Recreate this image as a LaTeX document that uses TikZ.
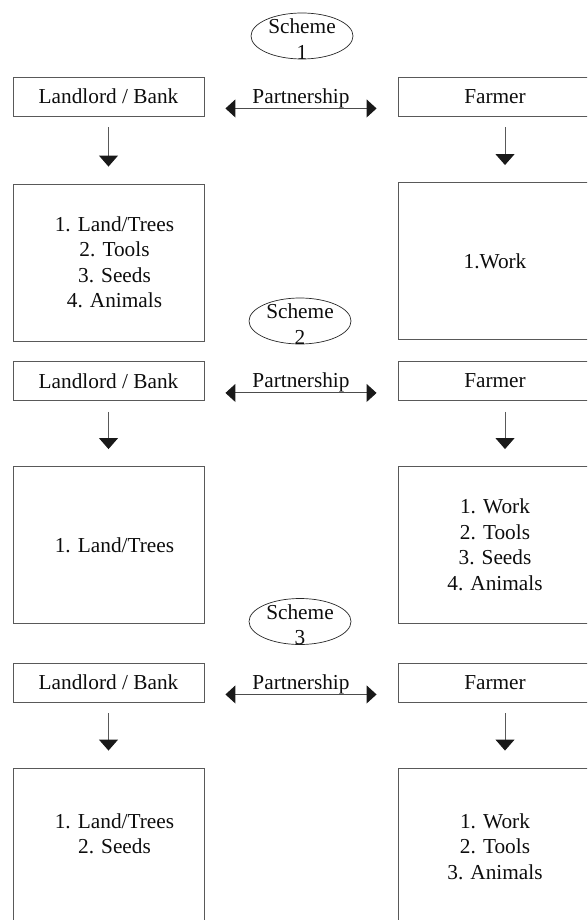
\documentclass[tikz,border=0pt]{standalone}
\usepackage{fontspec}
\setmainfont{Liberation Serif}
\usetikzlibrary{arrows.meta,shapes.geometric}

\tikzset{
  headbox/.style={draw=black!65,line width=0.9pt,minimum width=191pt,minimum height=39pt,inner sep=0pt},
  itembox/.style={draw=black!65,line width=0.9pt,minimum width=191pt,minimum height=157pt,inner sep=0pt,align=center},
  schemeoval/.style={draw=black!85,ellipse,line width=0.7pt,minimum width=102pt,minimum height=46pt,inner sep=0pt},
  listtext/.style={align=center,inner sep=0pt},
  downarrow/.style={-{Triangle[length=11pt,width=19pt,color=black!90]},draw=black!65,line width=1pt},
  partner/.style={{Triangle[length=10pt,width=18pt,color=black!90]}-{Triangle[length=10pt,width=18pt,color=black!90]},draw=black!70,line width=1pt},
}

\begin{document}
\begin{tikzpicture}[x=1pt,y=-1pt,font=\fontsize{21.3pt}{25.5pt}\selectfont,text=black!95]
\clip (0,0) rectangle (587,920);
% Scheme 1
\node[schemeoval] (s1) at (302,36){}; \node[listtext] (st1) at ([yshift=-3pt]s1.center){Scheme\\1};
\node[headbox] (lh1) at (108.5,96.5){Landlord / Bank}; \node[headbox,minimum width=194pt] (rh1) at (495,96.5){Farmer};
\draw[partner] ([shift={(21pt,8pt)}]lh1.south east)--([shift={(-21pt,8pt)}]rh1.south west) node[midway,above,inner sep=0pt] (p1){Partnership};
\node[itembox] (lb1) at (108.5,262.5){}; \node[listtext] (lt1) at ([xshift=6pt]lb1.center){1. Land/Trees\\2. Tools\\3. Seeds\\4. Animals};
\node[itembox,minimum width=194pt] (rb1) at (495,261){1.Work};
\draw[downarrow] ([yshift=-11pt]lh1.south)--([yshift=17pt]lb1.north); \draw[downarrow] ([shift={(10pt,-11pt)}]rh1.south)--([shift={(10pt,17pt)}]rb1.north);
% Scheme 2
\node[schemeoval] (s2) at (300,321){}; \node[listtext] (st2) at ([yshift=-3pt]s2.center){Scheme\\2};
\node[headbox] (lh2) at (108.5,381){Landlord / Bank}; \node[headbox,minimum width=194pt] (rh2) at (495,381){Farmer};
\draw[partner] ([shift={(21pt,8pt)}]lh2.south east)--([shift={(-21pt,8pt)}]rh2.south west) node[midway,above,inner sep=0pt] (p2){Partnership};
\node[itembox] (lb2) at (108.5,545){}; \node[listtext] (lt2) at ([xshift=6pt]lb2.center){1. Land/Trees};
\node[itembox,minimum width=194pt] (rb2) at (495,545){1. Work\\2. Tools\\3. Seeds\\4. Animals};
\draw[downarrow] ([yshift=-11pt]lh2.south)--([yshift=17pt]lb2.north); \draw[downarrow] ([shift={(10pt,-11pt)}]rh2.south)--([shift={(10pt,17pt)}]rb2.north);
% Scheme 3
\node[schemeoval] (s3) at (300,621.5){}; \node[listtext] (st3) at ([yshift=-3pt]s3.center){Scheme\\3};
\node[headbox] (lh3) at (108.5,682.5){Landlord / Bank}; \node[headbox,minimum width=194pt] (rh3) at (495,682.5){Farmer};
\draw[partner] ([shift={(21pt,8pt)}]lh3.south east)--([shift={(-21pt,8pt)}]rh3.south west) node[midway,above,inner sep=0pt] (p3){Partnership};
\node[itembox] (lb3) at (108.5,846.5){}; \node[listtext] (lt3) at ([shift={(6pt,12.5pt)}]lb3.center){1. Land/Trees\\2. Seeds};
\node[itembox,minimum width=194pt] (rb3) at (495,846.5){1. Work\\2. Tools\\3. Animals};
\draw[downarrow] ([yshift=-11pt]lh3.south)--([yshift=17pt]lb3.north); \draw[downarrow] ([shift={(10pt,-11pt)}]rh3.south)--([shift={(10pt,17pt)}]rb3.north);
\end{tikzpicture}
\end{document}
